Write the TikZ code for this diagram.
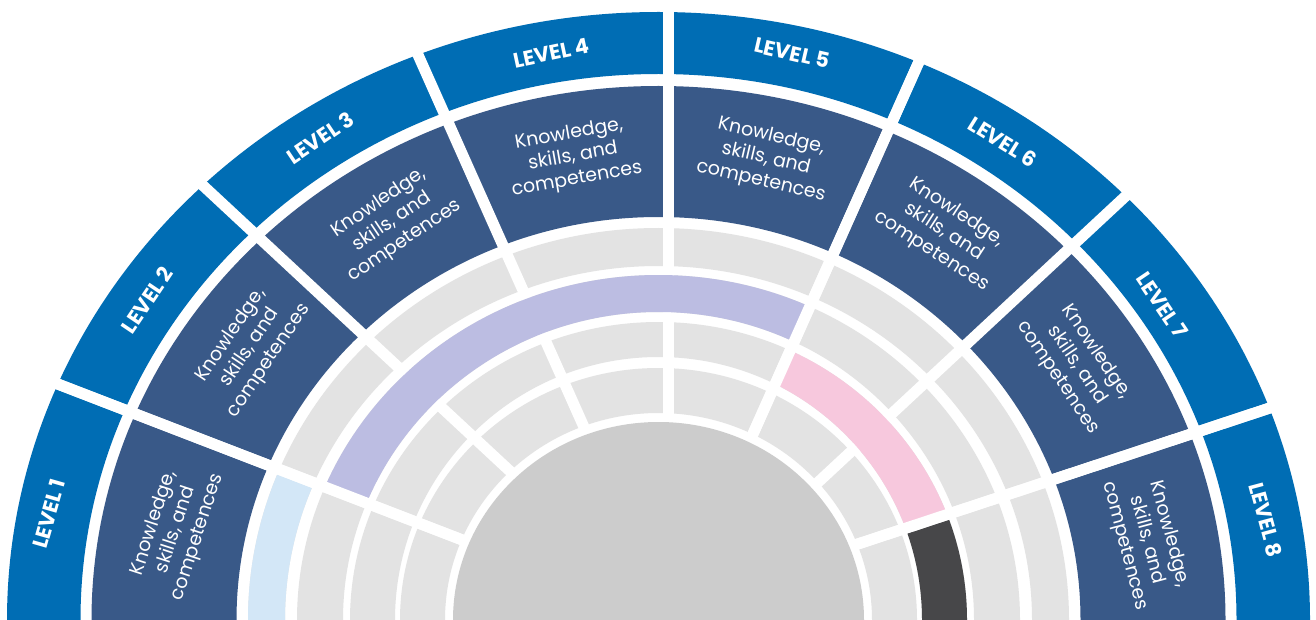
\documentclass[tikz,border=0pt]{standalone}
\usepackage{fontspec}
\setmainfont{Poppins}
\definecolor{lvblue}{RGB}{0,109,180}
\definecolor{kblue}{RGB}{57,89,136}
\definecolor{ringgray}{RGB}{227,227,227}
\definecolor{diskgray}{RGB}{204,204,204}
\definecolor{bandpurple}{RGB}{188,189,226}
\definecolor{bandpink}{RGB}{247,200,221}
\definecolor{bandlblue}{RGB}{211,231,247}
\definecolor{banddark}{RGB}{71,71,73}
\begin{document}
\begin{tikzpicture}[x=1pt,y=-1pt,
  sepline/.style={white, line width=11pt},
  leveltext/.style={text=white, font=\fontsize{21}{24}\selectfont\bfseries, inner sep=0pt},
  knowtext/.style={text=white, font=\fontsize{19}{23}\selectfont, align=center, inner sep=0pt}]
\useasboundingbox (0,0) rectangle (1316,620);
\fill[white] (0,0) rectangle (1316,620);
\coordinate (C) at (658.5,620);
\coordinate (O) at (670,620);
\coordinate (Ov) at (668.5,620);
\coordinate (O8) at (670,606);
% separator far ends
\coordinate (S12) at (-303,245);
\coordinate (S23) at (-90,-87);
\coordinate (S34) at (258,-304);
\coordinate (S45) at (668.5,-60);
\coordinate (S56) at (1082,-304);
\coordinate (S67) at (1430,-87);
\coordinate (S78) at (1500,332);
% rings
\fill[lvblue, even odd rule] (C) ellipse [x radius=651.5, y radius=608] (C) ellipse [x radius=578, y radius=546];
\fill[kblue, even odd rule] (C) ellipse [x radius=567, y radius=534] (C) ellipse [x radius=422, y radius=403];
\fill[ringgray, even odd rule] (C) ellipse [x radius=410.5, y radius=392] (C) ellipse [x radius=373.5, y radius=354];
\fill[ringgray, even odd rule] (C) ellipse [x radius=361.5, y radius=345] (C) ellipse [x radius=315.5, y radius=308];
\fill[ringgray, even odd rule] (C) ellipse [x radius=308.5, y radius=298] (C) ellipse [x radius=263.5, y radius=263];
\fill[ringgray, even odd rule] (C) ellipse [x radius=258.5, y radius=252] (C) ellipse [x radius=213.5, y radius=207];
% light blue band (ring 4, level 1)
\begin{scope}
\clip (O) -- (S12) -- (-303,700) -- (670,700) -- cycle;
\fill[bandlblue, even odd rule] (C) ellipse [x radius=410.5, y radius=392] (C) ellipse [x radius=373.5, y radius=354];
\end{scope}
% dark band (ring 2, level 8)
\begin{scope}
\clip (O8) -- (S78) -- (1500,700) -- (670,700) -- cycle;
\fill[banddark, even odd rule] (C) ellipse [x radius=308.5, y radius=298] (C) ellipse [x radius=263.5, y radius=263];
\end{scope}
% separators
\draw[sepline] (O) -- (S12);
\draw[sepline] (O) -- (S23);
\draw[sepline] (O) -- (S34);
\draw[sepline] (Ov) -- (S45);
\draw[sepline] (O) -- (S56);
\draw[sepline] (O) -- (S67);
\draw[sepline] (O8) -- (S78);
% purple band (ring 3, levels 2-5)
\begin{scope}
\clip (O) -- (S56) -- (-303,-304) -- (S12) -- cycle;
\fill[bandpurple, even odd rule] (C) ellipse [x radius=361.5, y radius=345] (C) ellipse [x radius=315.5, y radius=308];
\end{scope}
% pink band (ring 2, levels 6-7)
\begin{scope}
\clip (O) -- (S56) -- (1500,-304) -- (S78) -- (O8) -- cycle;
\fill[bandpink, even odd rule] (C) ellipse [x radius=308.5, y radius=298] (C) ellipse [x radius=263.5, y radius=263];
\end{scope}
\draw[sepline] (O) -- (S12);
\draw[sepline] (O) -- (S56);
\draw[sepline] (O8) -- (S78);
% central disk
\fill[diskgray] (C) ellipse [x radius=205.5, y radius=198];
% level labels
\node[leveltext, rotate=74] (lv1) at (49,514) {LEVEL 1};
\node[leveltext, rotate=56] (lv2) at (147,300) {LEVEL 2};
\node[leveltext, rotate=34] (lv3) at (320,138) {LEVEL 3};
\node[leveltext, rotate=12] (lv4) at (551,53) {LEVEL 4};
\node[leveltext, rotate=-13] (lv5) at (792,53) {LEVEL 5};
\node[leveltext, rotate=-32] (lv6) at (1003,142) {LEVEL 6};
\node[leveltext, rotate=-56] (lv7) at (1162,305) {LEVEL 7};
\node[leveltext, rotate=-75] (lv8) at (1266,520) {LEVEL 8};
% knowledge labels
\node[knowtext, rotate=72] (k1) at (176,530) {Knowledge,\\skills, and\\competences};
\node[knowtext, rotate=56] (k2) at (250,348) {Knowledge,\\skills, and\\competences};
\node[knowtext, rotate=34] (k3) at (392,222) {Knowledge,\\skills, and\\competences};
\node[knowtext, rotate=10] (k4) at (573,157) {Knowledge,\\skills, and\\competences};
\node[knowtext, rotate=-13] (k5) at (766,159) {Knowledge,\\skills, and\\competences};
\node[knowtext, rotate=-33] (k6) at (944,232) {Knowledge,\\skills, and\\competences};
\node[knowtext, rotate=-56] (k7) at (1077,365) {Knowledge,\\skills, and\\competences};
\node[knowtext, rotate=-75] (k8) at (1147,540) {Knowledge,\\skills, and\\competences};
\end{tikzpicture}
\end{document}
